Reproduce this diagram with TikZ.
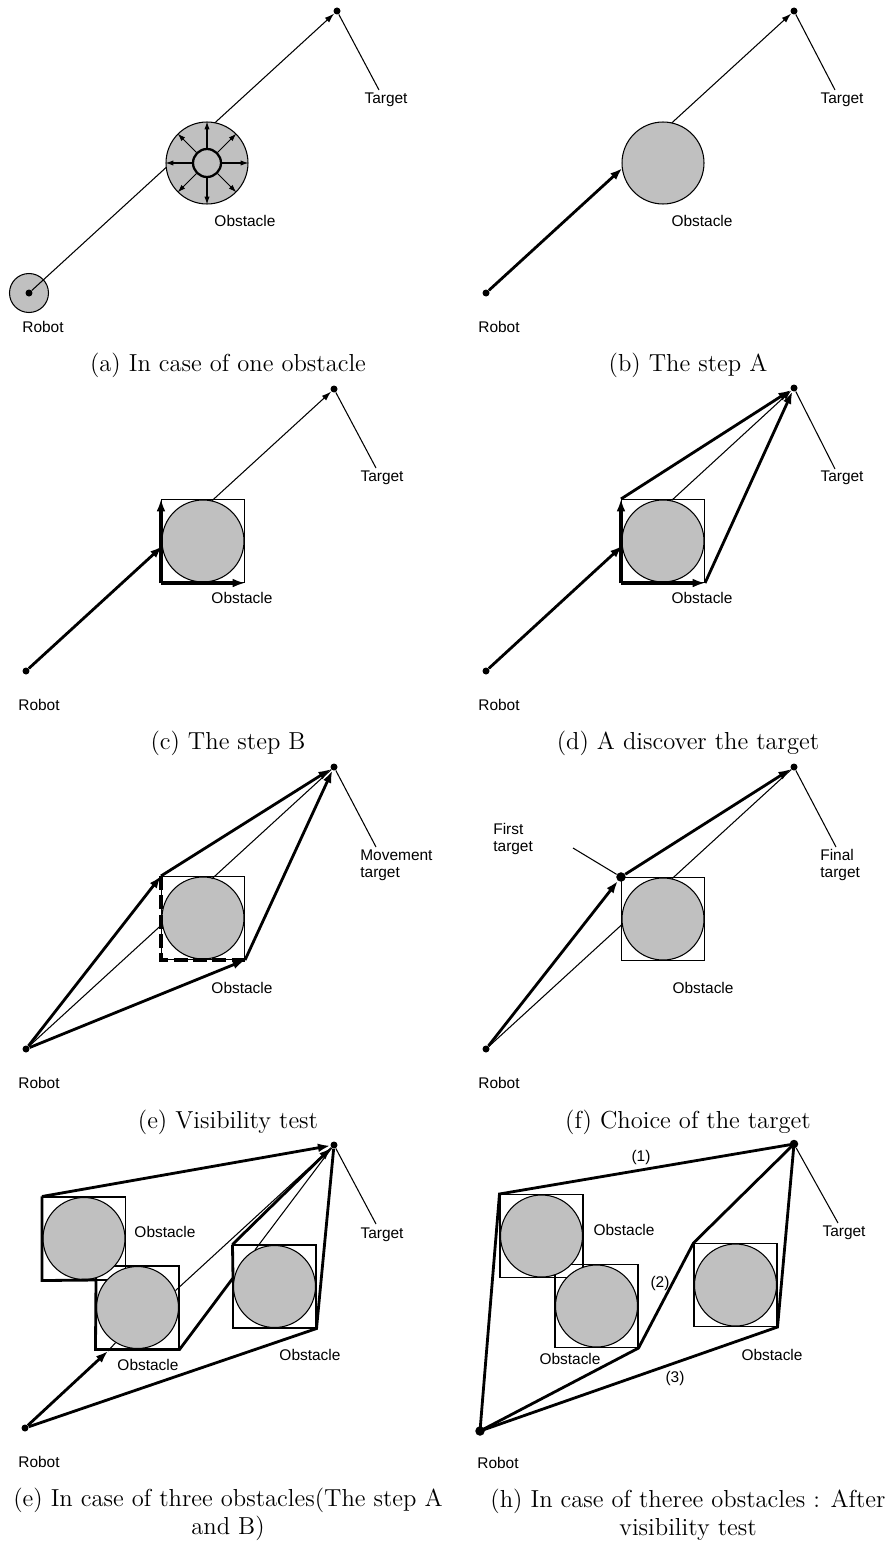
\documentclass[tikz,border=0pt]{standalone}
\usepackage{fontspec}
\setsansfont{Liberation Sans}
\usetikzlibrary{arrows.meta}
\definecolor{obsgray}{RGB}{192,192,192}
\tikzset{
  thinl/.style={line width=0.6pt},
  thickl/.style={line width=1.6pt},
  tarr/.style={thinl,-{Latex[length=5.5pt,width=3.6pt]}},
  karr/.style={thickl,-{Latex[length=7pt,width=5pt]}},
  sarr/.style={line width=0.6pt,-{Latex[length=4.5pt,width=3pt]}},
  obst/.style={circle,draw,line width=0.6pt,fill=obsgray,minimum size=1.64cm,inner sep=0pt},
  sqbox/.style={rectangle,draw,line width=0.6pt,minimum size=1.66cm,inner sep=0pt},
  dotn/.style={circle,fill=black,inner sep=0pt,minimum size=0.14cm},
  bigdot/.style={circle,fill=black,inner sep=0pt,minimum size=0.19cm},
  lab/.style={font=\sffamily\fontsize{8.8}{9.5}\selectfont,inner sep=0pt},
  mlab/.style={lab,align=left,anchor=west},
  captxt/.style={font=\fontsize{14}{15.9}\selectfont,inner sep=0pt,align=center},
  dashl/.style={line width=2pt,dash pattern=on 8pt off 3pt}
}
\begin{document}
\begin{tikzpicture}[x=0.02cm,y=-0.02cm]
\useasboundingbox (0,0) rectangle (893,1544);

% ---------------- (a)
\begin{scope}[shift={(29,293)}]
  \node[obst,minimum size=0.78cm] (aRc) at (0,0) {};
  \node[dotn] (aR) at (0,0) {};
  \node[dotn] (aT) at (308,-282) {};
  \draw[tarr] (aR) -- (aT);
  \node[obst] (aO) at (178,-130) {};
  \node[circle,draw,line width=1.3pt,fill=obsgray,minimum size=0.56cm,inner sep=0pt] (aI) at (178,-130) {};
  \foreach \a in {0,45,...,315} \draw[sarr] (aI.\a) -- (aO.\a);
  \node[lab] (aOl) at (216,-72) {Obstacle};
  \node[lab] (aRl) at (14,34) {Robot};
  \node[lab] (aTl) at (357,-193) {Target};
  \coordinate (aTe) at (350,-203);
  \draw[thinl] (aT) -- (aTe);
\end{scope}
\node[captxt] (capa) at (228,365) {(a) In case of one obstacle};

% ---------------- (b)
\begin{scope}[shift={(486,293)}]
  \node[dotn] (bR) at (0,0) {};
  \node[dotn] (bT) at (308,-282) {};
  \node[obst] (bO) at (177,-130) {};
  \path (bR.center) -- (bT.center) coordinate[pos=0.4427] (bE1) coordinate[pos=0.603] (bE2);
  \draw[karr] (bR) -- (bE1);
  \draw[tarr] (bE2) -- (bT);
  \node[lab] (bOl) at (216,-72) {Obstacle};
  \node[lab] (bRl) at (13,34) {Robot};
  \node[lab] (bTl) at (356,-193) {Target};
  \coordinate (bTe) at (349,-203);
  \draw[thinl] (bT) -- (bTe);
\end{scope}
\node[captxt] (capb) at (688,365) {(b) The step A};

% ---------------- (c)
\begin{scope}[shift={(26,671)}]
  \node[dotn] (cR) at (0,0) {};
  \node[dotn] (cT) at (308,-282) {};
  \node[sqbox] (cS) at (177,-130) {};
  \node[obst] (cO) at (177,-130) {};
  \path (cR.center) -- (cT.center) coordinate[pos=0.4427] (cE1) coordinate[pos=0.603] (cE2);
  \draw[karr] (cR) -- (cE1);
  \draw[karr,line width=1.8pt] (cS.south west) -- (cS.north west);
  \draw[karr,line width=1.8pt] (cS.south west) -- (cS.south east);
  \draw[tarr] (cE2) -- (cT);
  \node[lab] (cOl) at (216,-73) {Obstacle};
  \node[lab] (cRl) at (13,34) {Robot};
  \node[lab] (cTl) at (356,-193) {Target};
  \coordinate (cTe) at (350,-203);
  \draw[thinl] (cT) -- (cTe);
\end{scope}
\node[captxt] (capc) at (228,743) {(c) The step B};

% ---------------- (d)
\begin{scope}[shift={(486,671)}]
  \node[dotn] (dR) at (0,0) {};
  \node[dotn] (dT) at (308,-283) {};
  \node[sqbox] (dS) at (177,-130) {};
  \node[obst] (dO) at (177,-130) {};
  \path (dR.center) -- (dT.center) coordinate[pos=0.4427] (dE1) coordinate[pos=0.603] (dE2);
  \draw[karr] (dR) -- (dE1);
  \draw[karr,line width=1.8pt] (dS.south west) -- (dS.north west);
  \draw[karr,line width=1.8pt] (dS.south west) -- (dS.south east);
  \draw[tarr] (dE2) -- (dT);
  \draw[karr] (dS.north west) -- (dT);
  \draw[karr] (dS.south east) -- (dT);
  \node[lab] (dOl) at (216,-73) {Obstacle};
  \node[lab] (dRl) at (13,34) {Robot};
  \node[lab] (dTl) at (356,-193) {Target};
  \coordinate (dTe) at (349,-202);
  \draw[thinl] (dT) -- (dTe);
\end{scope}
\node[captxt] (capd) at (688,743) {(d) A discover the target};

% ---------------- (e)
\begin{scope}[shift={(26,1049)}]
  \node[dotn] (eR) at (0,0) {};
  \node[dotn] (eT) at (308,-282) {};
  \node[sqbox] (eS) at (177,-131) {};
  \node[obst] (eO) at (177,-131) {};
  \path (eR.center) -- (eT.center) coordinate[pos=0.4427] (eE1) coordinate[pos=0.603] (eE2);
  \draw[thinl] (eR) -- (eE1);
  \draw[karr] (eR) -- (eS.north west);
  \draw[karr] (eR) -- (eS.south east);
  \draw[karr] (eS.north west) -- (eT);
  \draw[karr] (eS.south east) -- (eT);
  \draw[thinl] (eE2) -- (eT);
  \draw[dashl] (eS.north west) -- (eS.south west) -- (eS.south east);
  \node[lab] (eOl) at (216,-61) {Obstacle};
  \node[lab] (eRl) at (13,34) {Robot};
  \node[mlab] (eTl) at (334,-184) {Movement\\target};
  \coordinate (eTe) at (350,-202);
  \draw[thinl] (eT) -- (eTe);
\end{scope}
\node[captxt] (cape) at (228,1122) {(e) Visibility test};

% ---------------- (f)
\begin{scope}[shift={(486,1049)}]
  \node[dotn] (fR) at (0,0) {};
  \node[dotn] (fT) at (308,-282) {};
  \node[sqbox] (fS) at (177,-130) {};
  \node[obst] (fO) at (177,-130) {};
  \path (fR.center) -- (fT.center) coordinate[pos=0.4427] (fE1) coordinate[pos=0.603] (fE2);
  \draw[thinl] (fR) -- (fE1);
  \draw[thinl] (fE2) -- (fT);
  \node[bigdot] (fF) at (fS.north west) {};
  \draw[karr] (fR) -- (fF);
  \draw[karr] (fF) -- (fT);
  \node[lab] (fOl) at (217,-61) {Obstacle};
  \node[lab] (fRl) at (13,34) {Robot};
  \node[mlab] (fTl) at (334,-184) {Final\\target};
  \coordinate (fTe) at (350,-202);
  \draw[thinl] (fT) -- (fTe);
  \node[mlab] (fFl) at (7,-210) {First\\target};
  \coordinate (fFe) at (87,-201);
  \draw[thinl] (fFe) -- (fF);
\end{scope}
\node[captxt] (capf) at (688,1122) {(f) Choice of the target};

% ---------------- (g)
\node[dotn] (gR) at (25,1428) {};
\node[dotn] (gT) at (334,1145) {};
\node[sqbox] (gS1) at (84,1238.5) {};
\node[sqbox] (gS2) at (137.5,1307.5) {};
\node[sqbox] (gS3) at (274.5,1286.5) {};
\node[obst] (gO1) at (84,1238.5) {};
\node[obst] (gO2) at (137.5,1307.5) {};
\node[obst] (gO3) at (274.5,1286.5) {};
\coordinate (gA) at (108,1351);
\coordinate (gB) at (96,1280);
\coordinate (gC) at (233,1278);
\draw[thinl] (gA) -- (gO2.238);
\draw[karr] (gR) -- (gA);
\draw[thickl,line join=miter] (gS1.north west) -- (gS1.south west) -- (gB) -- (gS2.south west) -- (gS2.south east) -- (gC) -- (gS3.north west);
\draw[karr] (gS1.north west) -- (gT);
\draw[karr] (gS3.north west) -- (gT);
\draw[thickl] (gR) -- (gS3.south east) -- (gT);
\draw[thinl] (gO2.24) -- (gT);
\draw[thinl] (gO3.118) -- (gT);
\node[lab] (gO1l) at (165,1232) {Obstacle};
\node[lab] (gO2l) at (148,1365) {Obstacle};
\node[lab] (gO3l) at (310,1355) {Obstacle};
\node[lab] (gTl) at (382,1235) {Target};
\coordinate (gTe) at (376,1224);
\draw[thinl] (gT) -- (gTe);
\node[lab] (gRl) at (39,1462) {Robot};
\node[captxt] (capg) at (228,1514) {(e) In case of three obstacles(The step A\\and B)};

% ---------------- (h)
\node[bigdot] (hR) at (480,1431) {};
\node[bigdot,minimum size=0.17cm] (hT) at (794,1144) {};
\node[sqbox] (hS1) at (541.5,1236) {};
\node[sqbox] (hS2) at (596.5,1306) {};
\node[sqbox] (hS3) at (735.5,1285) {};
\node[obst] (hO1) at (541.5,1236) {};
\node[obst] (hO2) at (596.5,1306) {};
\node[obst] (hO3) at (735.5,1285) {};
\draw[thickl,line join=miter] (hR.center) -- (hS1.north west) -- (hT.center);
\draw[thickl,line join=miter] (hR.center) -- (hS2.south east) -- (hS3.north west) -- (hT.center);
\draw[thickl,line join=miter] (hR.center) -- (hS3.south east) -- (hT.center);
\node[lab] (h1) at (641,1157) {(1)};
\node[lab] (h2) at (660,1283) {(2)};
\node[lab] (h3) at (675,1378) {(3)};
\node[lab] (hO1l) at (624,1230) {Obstacle};
\node[lab] (hO2l) at (570,1359) {Obstacle};
\node[lab] (hO3l) at (772,1355) {Obstacle};
\node[lab] (hTl) at (844,1233) {Target};
\coordinate (hTe) at (838,1223);
\draw[thinl] (hT) -- (hTe);
\node[lab] (hRl) at (498,1463) {Robot};
\node[captxt] (caph) at (688,1515) {(h) In case of theree obstacles : After\\visibility test};
\end{tikzpicture}
\end{document}
